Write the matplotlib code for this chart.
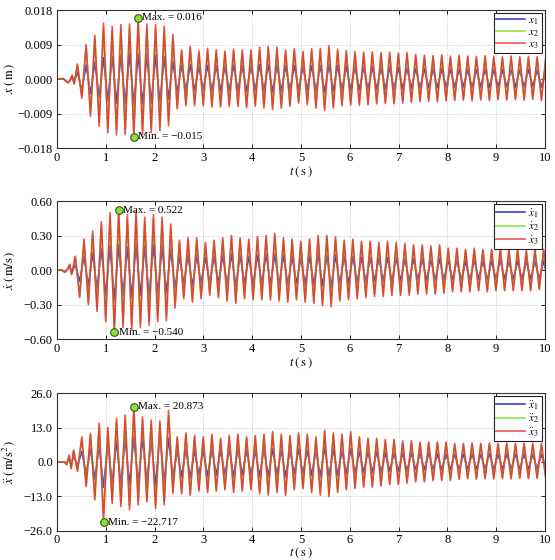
import numpy as np
import matplotlib
matplotlib.use('Agg')
import matplotlib.pyplot as plt

plt.rcParams['font.family'] = ['Liberation Serif', 'DejaVu Serif']
plt.rcParams['mathtext.fontset'] = 'stix'

# ---------------- data ----------------
period = 0.1777          # s, oscillation period
t0_disp = 0.42           # time of first extremum (displacement)
t0_vel = 0.376
t0_acc = 0.42

# lead-in (before regular oscillation)
lead_t_disp = [0.0, 0.13, 0.18, 0.23, 0.27, 0.31, 0.35]
lead_x1 = [0.0, 0.1, -0.5, -0.8, -0.3, 0.6, -0.9]      # mm
lead_x2 = [0.0, 0.1, -0.5, -0.9, -0.3, 0.9, -1.2]
lead_x3 = [0.0, 0.1, -0.6, -1.0, -0.3, 1.0, -1.3]

lead_t_vel = [0.0, 0.10, 0.16, 0.22, 0.26, 0.30]
lead_v1 = [0.0, 0.0, -0.015, 0.01, 0.04, -0.03]
lead_v2 = [0.0, 0.0, -0.02, 0.01, 0.045, -0.035]
lead_v3 = [0.0, 0.0, -0.02, 0.01, 0.05, -0.04]

lead_t_acc = [0.0, 0.15, 0.20, 0.25, 0.29, 0.34]
lead_a1 = [0.0, 0.0, -0.6, 1.5, -1.4, 2.5]
lead_a2 = [0.0, 0.0, -0.9, 2.4, -2.3, 4.1]
lead_a3 = [0.0, 0.0, -1.0, 2.6, -2.5, 4.5]

# successive extrema (every half period), displacement in mm
disp_x3 = [3.9, -5.0, 9.0, -9.7, 11.4, -12.3, 14.6, -14.0, 13.7, -14.6,
           14.2, -14.5, 14.3, -15.0, 16.0, -14.5, 14.3, -14.0, 14.2, -13.5,
           13.8, -12.2, 11.6, -7.8, 7.6, -7.0, 8.6, -7.0, 7.4, -7.0,
           8.0, -7.3, 7.6, -7.3, 7.3, -7.2, 7.8, -7.2, 7.6, -7.5,
           7.6, -7.1, 8.3, -7.6, 8.5, -8.0, 8.3, -7.6, 7.6, -7.1,
           7.9, -6.3, 7.2, -6.7, 7.9, -7.6, 8.0, -8.2, 8.7, -7.6,
           7.8, -7.0, 7.4, -6.8, 7.2, -6.8, 7.0, -6.7, 7.1, -6.5,
           6.9, -6.4, 7.0, -6.5, 6.8, -6.3, 6.9, -6.1, 6.4, -5.9,
           6.2, -5.8, 6.1, -5.9, 6.3, -5.7, 6.0, -5.6, 6.2, -5.5,
           6.0, -5.7, 5.9, -5.5, 6.1, -5.6, 5.9, -5.4, 5.8, -5.5,
           6.0, -5.4, 5.8, -5.5, 5.9, -5.3, 5.8, -5.6, 5.7]
disp_x2 = [3.6, -4.6, 8.3, -8.9, 10.5, -11.3, 13.4, -12.9, 12.6, -13.4,
           13.1, -13.3, 13.2, -13.8, 14.7, -13.3, 13.2, -12.9, 13.1, -12.4,
           12.7, -11.2, 10.7, -7.2, 7.0, -6.4, 7.9, -6.4, 6.8, -6.4,
           7.4, -6.7, 7.0, -6.7, 6.7, -6.6, 7.2, -6.6, 7.0, -6.9,
           7.0, -6.5, 7.6, -7.0, 7.8, -7.4, 7.6, -7.0, 7.0, -6.5,
           7.3, -5.8, 6.6, -6.2, 7.3, -7.0, 7.4, -7.5, 8.0, -7.0,
           7.2, -6.4, 6.8, -6.3, 6.6, -6.3, 6.4, -6.2, 6.5, -6.0,
           6.3, -5.9, 6.4, -6.0, 6.3, -5.8, 6.3, -5.6, 5.9, -5.4,
           5.7, -5.3, 5.6, -5.4, 5.8, -5.2, 5.5, -5.2, 5.7, -5.1,
           5.5, -5.2, 5.4, -5.1, 5.6, -5.2, 5.4, -5.0, 5.3, -5.1,
           5.5, -5.0, 5.3, -5.1, 5.4, -4.9, 5.3, -5.2, 5.2]
disp_x1 = [1.8, -3.0, 3.7, -3.9, 4.4, -4.8, 5.6, -5.8, 6.0, -6.3,
           6.3, -6.5, 6.6, -6.7, 6.5, -6.6, 6.4, -6.3, 6.2, -6.0,
           5.8, -5.3, 4.7, -3.6, 3.6, -3.0, 3.7, -3.1, 3.4, -3.0,
           3.6, -3.2, 3.5, -3.1, 3.4, -3.1, 3.6, -3.1, 3.5, -3.2,
           3.5, -3.0, 3.7, -3.2, 3.8, -3.4, 3.7, -3.2, 3.4, -3.0,
           3.5, -2.8, 3.3, -2.9, 3.5, -3.2, 3.6, -3.4, 3.8, -3.2,
           3.5, -3.0, 3.4, -2.9, 3.3, -2.9, 3.2, -2.8, 3.2, -2.8,
           3.1, -2.7, 3.1, -2.7, 3.0, -2.6, 3.0, -2.5, 2.8, -2.4,
           2.7, -2.3, 2.6, -2.3, 2.7, -2.2, 2.6, -2.2, 2.6, -2.1,
           2.5, -2.2, 2.5, -2.1, 2.6, -2.2, 2.5, -2.1, 2.5, -2.1,
           2.5, -2.1, 2.4, -2.1, 2.5, -2.0, 2.4, -2.1, 2.4]

# velocity extrema, m/s
vel_x3 = [0.12, -0.24, 0.27, -0.30, 0.34, -0.36, 0.42, -0.45, 0.50, -0.540,
          0.522, -0.50, 0.48, -0.52, 0.51, -0.50, 0.46, -0.48, 0.48, -0.45,
          0.46, -0.44, 0.40, -0.33, 0.26, -0.25, 0.28, -0.28, 0.28, -0.25,
          0.24, -0.22, 0.26, -0.24, 0.28, -0.27, 0.30, -0.29, 0.28, -0.25,
          0.27, -0.26, 0.29, -0.26, 0.30, -0.26, 0.32, -0.27, 0.28, -0.28,
          0.27, -0.26, 0.25, -0.28, 0.27, -0.29, 0.30, -0.31, 0.30, -0.32,
          0.29, -0.27, 0.26, -0.26, 0.27, -0.25, 0.25, -0.24, 0.25, -0.23,
          0.24, -0.23, 0.25, -0.22, 0.24, -0.22, 0.23, -0.22, 0.22, -0.21,
          0.22, -0.21, 0.21, -0.21, 0.22, -0.20, 0.19, -0.19, 0.19, -0.19,
          0.18, -0.19, 0.19, -0.18, 0.18, -0.19, 0.18, -0.18, 0.19, -0.18,
          0.18, -0.18, 0.18, -0.18, 0.17, -0.18, 0.18, -0.17, 0.18, -0.17]
vel_x2 = [0.11, -0.22, 0.25, -0.28, 0.31, -0.33, 0.39, -0.41, 0.46, -0.50,
          0.48, -0.46, 0.44, -0.48, 0.47, -0.46, 0.42, -0.44, 0.44, -0.41,
          0.42, -0.40, 0.37, -0.30, 0.24, -0.23, 0.26, -0.26, 0.26, -0.23,
          0.22, -0.20, 0.24, -0.22, 0.26, -0.25, 0.28, -0.27, 0.26, -0.23,
          0.25, -0.24, 0.27, -0.24, 0.28, -0.24, 0.29, -0.25, 0.26, -0.26,
          0.25, -0.24, 0.23, -0.26, 0.25, -0.27, 0.28, -0.29, 0.28, -0.29,
          0.27, -0.25, 0.24, -0.24, 0.25, -0.23, 0.23, -0.22, 0.23, -0.21,
          0.22, -0.21, 0.23, -0.20, 0.22, -0.20, 0.21, -0.20, 0.20, -0.19,
          0.20, -0.19, 0.19, -0.19, 0.20, -0.18, 0.17, -0.17, 0.17, -0.17,
          0.17, -0.17, 0.17, -0.17, 0.17, -0.17, 0.17, -0.17, 0.17, -0.17,
          0.17, -0.17, 0.17, -0.17, 0.16, -0.17, 0.17, -0.16, 0.17, -0.16]
vel_x1 = [0.05, -0.10, 0.12, -0.14, 0.15, -0.17, 0.19, -0.22, 0.21, -0.26,
          0.22, -0.22, 0.20, -0.24, 0.22, -0.22, 0.21, -0.23, 0.22, -0.21,
          0.21, -0.20, 0.18, -0.16, 0.12, -0.12, 0.13, -0.14, 0.13, -0.12,
          0.11, -0.11, 0.12, -0.12, 0.13, -0.13, 0.14, -0.14, 0.13, -0.12,
          0.12, -0.13, 0.13, -0.12, 0.14, -0.13, 0.14, -0.13, 0.13, -0.13,
          0.12, -0.12, 0.11, -0.13, 0.12, -0.13, 0.14, -0.14, 0.13, -0.15,
          0.13, -0.12, 0.12, -0.12, 0.12, -0.11, 0.11, -0.11, 0.11, -0.10,
          0.11, -0.10, 0.11, -0.10, 0.11, -0.10, 0.10, -0.10, 0.10, -0.09,
          0.10, -0.09, 0.09, -0.09, 0.10, -0.09, 0.09, -0.09, 0.09, -0.09,
          0.08, -0.09, 0.09, -0.08, 0.08, -0.09, 0.08, -0.08, 0.09, -0.08,
          0.08, -0.08, 0.08, -0.08, 0.08, -0.08, 0.08, -0.08, 0.08, -0.08]

# acceleration extrema, m/s^2
acc_x3 = [-3.5, 9.5, -9.3, 10.8, -14.3, 14.6, -22.717, 13.0, -15.6, 16.5,
          -16.8, 17.7, -18.0, 20.873, -16.2, 17.0, -15.0, 15.8, -17.5, 15.5,
          -16.2, 19.5, -11.8, 9.5, -12.0, 11.0, -12.5, 10.0, -11.0, 9.5,
          -11.5, 10.5, -11.0, 9.0, -10.5, 10.0, -11.5, 10.5, -11.0, 9.5,
          -10.5, 10.0, -12.0, 10.5, -12.5, 11.5, -11.5, 10.5, -12.5, 10.0,
          -10.5, 11.0, -10.0, 10.5, -11.5, 9.5, -12.5, 12.0, -13.0, 11.0,
          -11.5, 10.5, -10.5, 11.5, -10.0, 9.5, -9.5, 9.0, -9.5, 9.0,
          -9.0, 8.5, -8.5, 8.5, -8.5, 8.0, -8.0, 8.0, -7.5, 7.5,
          -7.5, 7.5, -7.0, 7.5, -7.0, 7.5, -7.0, 7.0, -6.5, 7.0,
          -6.3, 7.2, -6.5, 7.0, -6.3, 7.2, -6.4, 7.0, -6.3, 7.1,
          -6.4, 7.0, -6.2, 7.1, -6.3, 7.0, -6.2, 7.0, -6.3]
acc_x2 = [-3.2, 8.8, -8.6, 10.0, -13.2, 13.5, -19.5, 12.0, -14.4, 15.2,
          -15.5, 16.3, -16.6, 18.5, -15.0, 15.7, -14.0, 14.6, -16.5, 14.3,
          -15.0, 17.5, -11.0, 8.8, -11.2, 10.2, -11.6, 9.3, -10.3, 8.8,
          -10.7, 9.7, -10.3, 8.4, -9.8, 9.3, -10.7, 9.7, -10.3, 8.8,
          -9.8, 9.3, -11.2, 9.7, -11.6, 10.6, -10.7, 9.7, -11.6, 9.3,
          -9.8, 10.2, -9.3, 9.7, -10.7, 8.8, -11.6, 11.1, -12.0, 10.2,
          -10.7, 9.7, -9.8, 10.6, -9.3, 8.8, -8.8, 8.4, -8.8, 8.4,
          -8.4, 7.9, -7.9, 7.9, -7.9, 7.4, -7.4, 7.4, -7.0, 7.0,
          -7.0, 7.0, -6.5, 7.0, -6.5, 7.0, -6.5, 6.5, -6.0, 6.5,
          -5.9, 6.7, -6.0, 6.5, -5.9, 6.7, -5.9, 6.5, -5.9, 6.6,
          -5.9, 6.5, -5.8, 6.6, -5.9, 6.5, -5.8, 6.5, -5.9]
acc_x1 = [-1.5, 4.0, -4.5, 5.0, -6.5, 6.5, -9.5, 7.0, -8.0, 8.0,
          -8.5, 9.0, -8.5, 9.5, -8.0, 9.0, -7.5, 8.5, -9.0, 10.5,
          -8.0, 9.0, -6.0, 4.5, -5.5, 5.0, -6.0, 4.5, -5.0, 4.5,
          -5.5, 5.0, -5.0, 4.5, -5.0, 5.0, -5.5, 5.0, -5.0, 4.5,
          -5.0, 4.5, -5.5, 5.0, -5.5, 5.0, -5.0, 4.5, -5.5, 4.5,
          -4.5, 5.0, -4.5, 4.5, -5.0, 4.5, -5.5, 5.5, -5.5, 5.0,
          -5.0, 4.5, -4.5, 5.0, -4.5, 4.0, -4.0, 4.0, -4.0, 4.0,
          -4.0, 3.5, -3.5, 3.5, -3.5, 3.5, -3.5, 3.5, -3.0, 3.5,
          -3.0, 3.5, -3.0, 3.0, -3.0, 3.0, -3.0, 3.0, -3.0, 3.0,
          -2.8, 3.2, -2.8, 3.0, -2.8, 3.2, -2.8, 3.0, -2.8, 3.1,
          -2.8, 3.0, -2.7, 3.1, -2.8, 3.0, -2.7, 3.0, -2.8]

x_ticks = [0, 1, 2, 3, 4, 5, 6, 7, 8, 9, 10]
disp_ticks = [-0.018, -0.009, 0.0, 0.009, 0.018]
disp_ticklabels = ['\u22120.018', '\u22120.009', '0.000', '0.009', '0.018']
vel_ticks = [-0.60, -0.30, 0.0, 0.30, 0.60]
vel_ticklabels = ['\u22120.60', '\u22120.30', '0.00', '0.30', '0.60']
acc_ticks = [-26.0, -13.0, 0.0, 13.0, 26.0]
acc_ticklabels = ['\u221226.0', '\u221213.0', '0.0', '13.0', '26.0']

# ---------------- drawing ----------------
colors = ['#4040dd', '#99dd44', '#e8262a']


def build(lead_t, lead_v, t0, ext, scale=1.0):
    t = np.concatenate([lead_t, t0 + np.arange(len(ext)) * period / 2.0])
    v = np.concatenate([lead_v, ext]) * scale
    return t, v


panels = [
    dict(lead_t=lead_t_disp, t0=t0_disp, scale=1e-3,
         series=[(lead_x1, disp_x1), (lead_x2, disp_x2), (lead_x3, disp_x3)],
         labels=[r'$x_1$', r'$x_2$', r'$x_3$'],
         ylabel=r'$x\;(\,\mathrm{m}\,)$', ticks=disp_ticks, ticklabels=disp_ticklabels,
         lim=(-0.018, 0.018), fmt='{:.3f}', xpad=0, tpad=3),
    dict(lead_t=lead_t_vel, t0=t0_vel, scale=1.0,
         series=[(lead_v1, vel_x1), (lead_v2, vel_x2), (lead_v3, vel_x3)],
         labels=[r'$\dot{x}_1$', r'$\dot{x}_2$', r'$\dot{x}_3$'],
         ylabel=r'$\dot{x}\;(\,\mathrm{m/s}\,)$', ticks=vel_ticks, ticklabels=vel_ticklabels,
         lim=(-0.60, 0.60), fmt='{:.3f}', xpad=0, tpad=3),
    dict(lead_t=lead_t_acc, t0=t0_acc, scale=1.0,
         series=[(lead_a1, acc_x1), (lead_a2, acc_x2), (lead_a3, acc_x3)],
         labels=[r'$\ddot{x}_1$', r'$\ddot{x}_2$', r'$\ddot{x}_3$'],
         ylabel=r'$\ddot{x}\;(\,\mathrm{m/s^2}\,)$', ticks=acc_ticks, ticklabels=acc_ticklabels,
         lim=(-26.0, 26.0), fmt='{:.3f}', xpad=-0.5, tpad=2),
]

rects = [[0.1027, 0.7357, 0.8793, 0.2464],
         [0.1027, 0.3946, 0.8793, 0.2464],
         [0.1027, 0.0518, 0.8793, 0.2464]]

fig = plt.figure(figsize=(5.55, 5.6), dpi=100)

for rect, p in zip(rects, panels):
    ax = fig.add_axes(rect)
    last_t = last_v = None
    for (lead, ext), c, lab, a in zip(p['series'], colors, p['labels'], [1.0, 1.0, 0.8]):
        t, v = build(p['lead_t'], lead, p['t0'], ext, p['scale'])
        ax.plot(t, v, color=c, lw=1.2, alpha=a, label=lab)
        last_t, last_v = t, v
    # max / min markers on x3
    imax = int(np.argmax(last_v))
    imin = int(np.argmin(last_v))
    for idx, name in [(imax, 'Max.'), (imin, 'Min.')]:
        ax.plot(last_t[idx], last_v[idx], 'o', ms=5.5, mfc='#8fdc3a',
                mec='#2d5a10', mew=0.8, zorder=6)
        txt = '{} = {}'.format(name, p['fmt'].format(last_v[idx])).replace('-', '\u2212')
        ax.annotate(txt, (last_t[idx], last_v[idx]), xytext=(3, 0),
                    textcoords='offset points', va='center', ha='left',
                    fontsize=8, zorder=7)
    ax.set_xlim(0, 10)
    ax.set_ylim(*p['lim'])
    ax.set_xticks(x_ticks)
    ax.set_xticklabels([str(v) for v in x_ticks])
    ax.set_yticks(p['ticks'])
    ax.set_yticklabels(p['ticklabels'])
    ax.tick_params(direction='in', top=True, right=True, length=3, width=0.6,
                   labelsize=9, pad=3)
    ax.tick_params(axis='x', pad=p['tpad'])
    ax.grid(True, linestyle=':', color='#bbbbbb', lw=0.6)
    for s in ax.spines.values():
        s.set_linewidth(0.8)
        s.set_color('#333333')
    ax.set_xlabel(r'$t\;(\,\mathrm{s}\,)$', fontsize=9, labelpad=p['xpad'])
    ax.set_ylabel(p['ylabel'], fontsize=9)
    ax.yaxis.set_label_coords(-0.082, 0.5)
    leg = ax.legend(loc='upper right', fontsize=8, fancybox=False, framealpha=1,
                    edgecolor='#222222', borderpad=0.2, labelspacing=0.05,
                    handlelength=2.6, handletextpad=0.3, borderaxespad=0.3)
    leg.get_frame().set_linewidth(0.8)
    leg.set_zorder(10)

fig.savefig('out.png', dpi=100)
